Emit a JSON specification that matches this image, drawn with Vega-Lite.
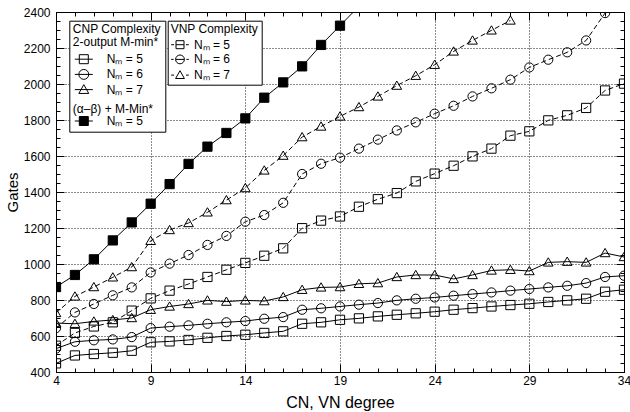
{
  "$schema": "https://vega.github.io/schema/vega-lite/v6.json",
  "width": 568,
  "height": 360,
  "autosize": {"type": "none"},
  "padding": {"left": 56, "top": 12, "right": 6, "bottom": 40},
  "data": {"values": [
    {"g":"cnp","s":"c5","x":4,"y":448},{"g":"cnp","s":"c5","x":5,"y":492},{"g":"cnp","s":"c5","x":6,"y":500},{"g":"cnp","s":"c5","x":7,"y":507},{"g":"cnp","s":"c5","x":8,"y":518},{"g":"cnp","s":"c5","x":9,"y":565},{"g":"cnp","s":"c5","x":10,"y":570},{"g":"cnp","s":"c5","x":11,"y":578},{"g":"cnp","s":"c5","x":12,"y":590},{"g":"cnp","s":"c5","x":13,"y":600},{"g":"cnp","s":"c5","x":14,"y":607},{"g":"cnp","s":"c5","x":15,"y":617},{"g":"cnp","s":"c5","x":16,"y":626},{"g":"cnp","s":"c5","x":17,"y":668},{"g":"cnp","s":"c5","x":18,"y":676},{"g":"cnp","s":"c5","x":19,"y":690},{"g":"cnp","s":"c5","x":20,"y":698},{"g":"cnp","s":"c5","x":21,"y":709},{"g":"cnp","s":"c5","x":22,"y":718},{"g":"cnp","s":"c5","x":23,"y":726},{"g":"cnp","s":"c5","x":24,"y":735},{"g":"cnp","s":"c5","x":25,"y":746},{"g":"cnp","s":"c5","x":26,"y":755},{"g":"cnp","s":"c5","x":27,"y":764},{"g":"cnp","s":"c5","x":28,"y":772},{"g":"cnp","s":"c5","x":29,"y":779},{"g":"cnp","s":"c5","x":30,"y":789},{"g":"cnp","s":"c5","x":31,"y":798},{"g":"cnp","s":"c5","x":32,"y":807},{"g":"cnp","s":"c5","x":33,"y":846},{"g":"cnp","s":"c5","x":34,"y":857},
    {"g":"cnp","s":"c6","x":4,"y":530},{"g":"cnp","s":"c6","x":5,"y":568},{"g":"cnp","s":"c6","x":6,"y":576},{"g":"cnp","s":"c6","x":7,"y":581},{"g":"cnp","s":"c6","x":8,"y":594},{"g":"cnp","s":"c6","x":9,"y":644},{"g":"cnp","s":"c6","x":10,"y":652},{"g":"cnp","s":"c6","x":11,"y":659},{"g":"cnp","s":"c6","x":12,"y":668},{"g":"cnp","s":"c6","x":13,"y":676},{"g":"cnp","s":"c6","x":14,"y":683},{"g":"cnp","s":"c6","x":15,"y":696},{"g":"cnp","s":"c6","x":16,"y":705},{"g":"cnp","s":"c6","x":17,"y":746},{"g":"cnp","s":"c6","x":18,"y":754},{"g":"cnp","s":"c6","x":19,"y":764},{"g":"cnp","s":"c6","x":20,"y":774},{"g":"cnp","s":"c6","x":21,"y":783},{"g":"cnp","s":"c6","x":22,"y":798},{"g":"cnp","s":"c6","x":23,"y":807},{"g":"cnp","s":"c6","x":24,"y":814},{"g":"cnp","s":"c6","x":25,"y":824},{"g":"cnp","s":"c6","x":26,"y":833},{"g":"cnp","s":"c6","x":27,"y":842},{"g":"cnp","s":"c6","x":28,"y":852},{"g":"cnp","s":"c6","x":29,"y":861},{"g":"cnp","s":"c6","x":30,"y":870},{"g":"cnp","s":"c6","x":31,"y":879},{"g":"cnp","s":"c6","x":32,"y":894},{"g":"cnp","s":"c6","x":33,"y":928},{"g":"cnp","s":"c6","x":34,"y":935},
    {"g":"cnp","s":"c7","x":4,"y":672},{"g":"cnp","s":"c7","x":5,"y":668},{"g":"cnp","s":"c7","x":6,"y":681},{"g":"cnp","s":"c7","x":7,"y":689},{"g":"cnp","s":"c7","x":8,"y":700},{"g":"cnp","s":"c7","x":9,"y":746},{"g":"cnp","s":"c7","x":10,"y":764},{"g":"cnp","s":"c7","x":11,"y":778},{"g":"cnp","s":"c7","x":12,"y":798},{"g":"cnp","s":"c7","x":13,"y":791},{"g":"cnp","s":"c7","x":14,"y":798},{"g":"cnp","s":"c7","x":15,"y":794},{"g":"cnp","s":"c7","x":16,"y":817},{"g":"cnp","s":"c7","x":17,"y":857},{"g":"cnp","s":"c7","x":18,"y":870},{"g":"cnp","s":"c7","x":19,"y":872},{"g":"cnp","s":"c7","x":20,"y":890},{"g":"cnp","s":"c7","x":21,"y":894},{"g":"cnp","s":"c7","x":22,"y":928},{"g":"cnp","s":"c7","x":23,"y":939},{"g":"cnp","s":"c7","x":24,"y":939},{"g":"cnp","s":"c7","x":25,"y":917},{"g":"cnp","s":"c7","x":26,"y":939},{"g":"cnp","s":"c7","x":27,"y":964},{"g":"cnp","s":"c7","x":28,"y":968},{"g":"cnp","s":"c7","x":29,"y":961},{"g":"cnp","s":"c7","x":30,"y":1009},{"g":"cnp","s":"c7","x":31,"y":1013},{"g":"cnp","s":"c7","x":32,"y":1009},{"g":"cnp","s":"c7","x":33,"y":1061},{"g":"cnp","s":"c7","x":34,"y":1039},
    {"g":"cnp","s":"ab5","x":4,"y":872},{"g":"cnp","s":"ab5","x":5,"y":939},{"g":"cnp","s":"ab5","x":6,"y":1026},{"g":"cnp","s":"ab5","x":7,"y":1131},{"g":"cnp","s":"ab5","x":8,"y":1231},{"g":"cnp","s":"ab5","x":9,"y":1335},{"g":"cnp","s":"ab5","x":10,"y":1444},{"g":"cnp","s":"ab5","x":11,"y":1556},{"g":"cnp","s":"ab5","x":12,"y":1652},{"g":"cnp","s":"ab5","x":13,"y":1728},{"g":"cnp","s":"ab5","x":14,"y":1809},{"g":"cnp","s":"ab5","x":15,"y":1924},{"g":"cnp","s":"ab5","x":16,"y":2009},{"g":"cnp","s":"ab5","x":17,"y":2098},{"g":"cnp","s":"ab5","x":18,"y":2217},{"g":"cnp","s":"ab5","x":19,"y":2324},{"g":"cnp","s":"ab5","x":20,"y":2432},
    {"g":"vnp","s":"v5","x":4,"y":546},{"g":"vnp","s":"v5","x":5,"y":617},{"g":"vnp","s":"v5","x":6,"y":653},{"g":"vnp","s":"v5","x":7,"y":676},{"g":"vnp","s":"v5","x":8,"y":741},{"g":"vnp","s":"v5","x":9,"y":809},{"g":"vnp","s":"v5","x":10,"y":852},{"g":"vnp","s":"v5","x":11,"y":889},{"g":"vnp","s":"v5","x":12,"y":928},{"g":"vnp","s":"v5","x":13,"y":968},{"g":"vnp","s":"v5","x":14,"y":1006},{"g":"vnp","s":"v5","x":15,"y":1046},{"g":"vnp","s":"v5","x":16,"y":1087},{"g":"vnp","s":"v5","x":17,"y":1199},{"g":"vnp","s":"v5","x":18,"y":1241},{"g":"vnp","s":"v5","x":19,"y":1264},{"g":"vnp","s":"v5","x":20,"y":1318},{"g":"vnp","s":"v5","x":21,"y":1360},{"g":"vnp","s":"v5","x":22,"y":1394},{"g":"vnp","s":"v5","x":23,"y":1459},{"g":"vnp","s":"v5","x":24,"y":1502},{"g":"vnp","s":"v5","x":25,"y":1546},{"g":"vnp","s":"v5","x":26,"y":1598},{"g":"vnp","s":"v5","x":27,"y":1641},{"g":"vnp","s":"v5","x":28,"y":1713},{"g":"vnp","s":"v5","x":29,"y":1737},{"g":"vnp","s":"v5","x":30,"y":1798},{"g":"vnp","s":"v5","x":31,"y":1826},{"g":"vnp","s":"v5","x":32,"y":1867},{"g":"vnp","s":"v5","x":33,"y":1964},{"g":"vnp","s":"v5","x":34,"y":2002},
    {"g":"vnp","s":"v6","x":4,"y":644},{"g":"vnp","s":"v6","x":5,"y":731},{"g":"vnp","s":"v6","x":6,"y":778},{"g":"vnp","s":"v6","x":7,"y":826},{"g":"vnp","s":"v6","x":8,"y":870},{"g":"vnp","s":"v6","x":9,"y":953},{"g":"vnp","s":"v6","x":10,"y":1002},{"g":"vnp","s":"v6","x":11,"y":1050},{"g":"vnp","s":"v6","x":12,"y":1106},{"g":"vnp","s":"v6","x":13,"y":1156},{"g":"vnp","s":"v6","x":14,"y":1235},{"g":"vnp","s":"v6","x":15,"y":1272},{"g":"vnp","s":"v6","x":16,"y":1340},{"g":"vnp","s":"v6","x":17,"y":1500},{"g":"vnp","s":"v6","x":18,"y":1557},{"g":"vnp","s":"v6","x":19,"y":1591},{"g":"vnp","s":"v6","x":20,"y":1641},{"g":"vnp","s":"v6","x":21,"y":1691},{"g":"vnp","s":"v6","x":22,"y":1742},{"g":"vnp","s":"v6","x":23,"y":1787},{"g":"vnp","s":"v6","x":24,"y":1835},{"g":"vnp","s":"v6","x":25,"y":1879},{"g":"vnp","s":"v6","x":26,"y":1931},{"g":"vnp","s":"v6","x":27,"y":1976},{"g":"vnp","s":"v6","x":28,"y":2024},{"g":"vnp","s":"v6","x":29,"y":2092},{"g":"vnp","s":"v6","x":30,"y":2135},{"g":"vnp","s":"v6","x":31,"y":2176},{"g":"vnp","s":"v6","x":32,"y":2242},{"g":"vnp","s":"v6","x":33,"y":2394},
    {"g":"vnp","s":"v7","x":4,"y":728},{"g":"vnp","s":"v7","x":5,"y":820},{"g":"vnp","s":"v7","x":6,"y":872},{"g":"vnp","s":"v7","x":7,"y":926},{"g":"vnp","s":"v7","x":8,"y":983},{"g":"vnp","s":"v7","x":9,"y":1129},{"g":"vnp","s":"v7","x":10,"y":1189},{"g":"vnp","s":"v7","x":11,"y":1228},{"g":"vnp","s":"v7","x":12,"y":1287},{"g":"vnp","s":"v7","x":13,"y":1355},{"g":"vnp","s":"v7","x":14,"y":1422},{"g":"vnp","s":"v7","x":15,"y":1520},{"g":"vnp","s":"v7","x":16,"y":1602},{"g":"vnp","s":"v7","x":17,"y":1705},{"g":"vnp","s":"v7","x":18,"y":1764},{"g":"vnp","s":"v7","x":19,"y":1820},{"g":"vnp","s":"v7","x":20,"y":1872},{"g":"vnp","s":"v7","x":21,"y":1931},{"g":"vnp","s":"v7","x":22,"y":1991},{"g":"vnp","s":"v7","x":23,"y":2046},{"g":"vnp","s":"v7","x":24,"y":2107},{"g":"vnp","s":"v7","x":25,"y":2181},{"g":"vnp","s":"v7","x":26,"y":2242},{"g":"vnp","s":"v7","x":27,"y":2298},{"g":"vnp","s":"v7","x":28,"y":2353}
  ]},
  "layer": [
    {
      "transform": [{"filter": {"field": "g", "equal": "cnp"}}],
      "mark": {"type": "line", "stroke": "#000", "strokeWidth": 1, "clip": true},
      "encoding": {
        "x": {"field": "x", "type": "quantitative", "scale": {"domain": [4, 34], "nice": false, "zero": false},
          "axis": {"orient": "bottom", "title": "CN, VN degree", "values": [4,5,6,7,8,9,10,11,12,13,14,15,16,17,18,19,20,21,22,23,24,25,26,27,28,29,30,31,32,33,34],
            "labelExpr": "(datum.value - 4) % 5 === 0 ? datum.label : ''",
            "tickSize": {"condition": {"test": "(datum.value - 4) % 5 === 0", "value": -8}, "value": -4},
            "labelPadding": 11, "labelFlush": false, "labelOverlap": false,
            "grid": true, "gridDash": [1, 2], "gridColor": "#000",
            "gridOpacity": {"condition": {"test": "(datum.value - 4) % 5 === 0", "value": 0.9}, "value": 0},
            "titleFontSize": 16, "titlePadding": 4}},
        "y": {"field": "y", "type": "quantitative", "scale": {"domain": [400, 2400], "nice": false, "zero": false},
          "axis": {"orient": "left", "title": "Gates", "format": "d",
            "values": [400,450,500,550,600,650,700,750,800,850,900,950,1000,1050,1100,1150,1200,1250,1300,1350,1400,1450,1500,1550,1600,1650,1700,1750,1800,1850,1900,1950,2000,2050,2100,2150,2200,2250,2300,2350,2400],
            "labelExpr": "datum.value % 200 === 0 ? datum.label : ''",
            "tickSize": {"condition": {"test": "datum.value % 200 === 0", "value": -8}, "value": -4},
            "labelPadding": 14, "labelFlush": false, "labelOverlap": false,
            "grid": true, "gridDash": [1, 2], "gridColor": "#000",
            "gridOpacity": {"condition": {"test": "datum.value % 200 === 0", "value": 0.9}, "value": 0},
            "titleFontSize": 15, "titlePadding": 3}},
        "detail": {"field": "s", "type": "nominal"}
      }
    },
    {
      "transform": [{"filter": {"field": "g", "equal": "vnp"}}],
      "mark": {"type": "line", "stroke": "#000", "strokeWidth": 1, "strokeDash": [5, 3], "clip": true},
      "encoding": {
        "x": {"field": "x", "type": "quantitative", "axis": null},
        "y": {"field": "y", "type": "quantitative", "axis": null},
        "detail": {"field": "s", "type": "nominal"}
      }
    },
    {
      "transform": [{"filter": {"field": "g", "equal": "cnp"}}],
      "mark": {"type": "point", "filled": true, "stroke": "#000", "strokeWidth": 1, "size": 85, "opacity": 1, "clip": true},
      "encoding": {
        "x": {"field": "x", "type": "quantitative",
          "axis": {"orient": "top", "title": null, "labels": false, "grid": false,
            "values": [4,5,6,7,8,9,10,11,12,13,14,15,16,17,18,19,20,21,22,23,24,25,26,27,28,29,30,31,32,33,34],
            "tickSize": {"condition": {"test": "(datum.value - 4) % 5 === 0", "value": -8}, "value": -4}}},
        "y": {"field": "y", "type": "quantitative",
          "axis": {"orient": "right", "title": null, "labels": false, "grid": false,
            "values": [400,450,500,550,600,650,700,750,800,850,900,950,1000,1050,1100,1150,1200,1250,1300,1350,1400,1450,1500,1550,1600,1650,1700,1750,1800,1850,1900,1950,2000,2050,2100,2150,2200,2250,2300,2350,2400],
            "tickSize": {"condition": {"test": "datum.value % 200 === 0", "value": -8}, "value": -4}}},
        "shape": {"field": "s", "type": "nominal", "legend": null,
          "scale": {"domain": ["c5", "c6", "c7", "ab5"], "range": ["square", "circle", "M0,-1L1.05,0.8H-1.05Z", "square"]}},
        "fill": {"condition": {"test": "datum.s === 'ab5'", "value": "#000"}, "value": "transparent"}
      }
    },
    {
      "transform": [{"filter": {"field": "g", "equal": "vnp"}}],
      "mark": {"type": "point", "filled": false, "stroke": "#000", "strokeWidth": 1, "size": 85, "opacity": 1, "clip": true},
      "encoding": {
        "x": {"field": "x", "type": "quantitative", "axis": null},
        "y": {"field": "y", "type": "quantitative", "axis": null},
        "shape": {"field": "s", "type": "nominal", "legend": null,
          "scale": {"domain": ["v5", "v6", "v7"], "range": ["square", "circle", "M0,-1L1.05,0.8H-1.05Z"]}}
      }
    },
    {
      "transform": [{"filter": {"field": "g", "equal": "none"}}],
      "mark": {"type": "point", "filled": false, "stroke": "#000", "strokeWidth": 1, "opacity": 1},
      "encoding": {
        "x": {"field": "x", "type": "quantitative", "axis": null},
        "y": {"field": "y", "type": "quantitative", "axis": null},
        "shape": {"field": "s", "type": "nominal",
          "scale": {"domain": ["c5", "c6", "c7", "hdr", "ab5"],
            "range": ["M-2,0H2M-1,-1H1V1H-1Z", "M-2,0H2M1.1,0A1.1,1.1,0,1,1,-1.1,0A1.1,1.1,0,1,1,1.1,0Z", "M-2,0H2M0,-1.1L1.1,0.85H-1.1Z", "M-1,-1.3H1M-1,1.3H1", "M-2,0H2M-1,-1H1V1H-1Z"]},
          "legend": {
            "orient": "none", "legendX": 13.3, "legendY": 8.7, "direction": "vertical",
            "title": ["CNP Complexity", "2-output M-min*"], "titleLineHeight": 13, "titlePadding": 4,
            "labelExpr": "datum.value === 'hdr' ? '' : datum.value === 'c6' ? 'Nₘ = 6' : datum.value === 'c7' ? 'Nₘ = 7' : 'Nₘ = 5'",
            "symbolSize": 81, "symbolOffset": 5, "labelOffset": 17, "rowPadding": 1.2, "padding": 3.5,
            "symbolStrokeColor": "#000", "symbolStrokeWidth": 1,
            "strokeColor": "#000", "fillColor": "#fff"}},
        "fill": {"field": "s", "type": "nominal",
          "scale": {"domain": ["c5", "c6", "c7", "hdr", "ab5"], "range": ["transparent", "transparent", "transparent", "transparent", "#000"]},
          "legend": {
            "orient": "none", "legendX": 13.3, "legendY": 8.7, "direction": "vertical",
            "title": ["CNP Complexity", "2-output M-min*"], "titleLineHeight": 13, "titlePadding": 4,
            "labelExpr": "datum.value === 'hdr' ? '' : datum.value === 'c6' ? 'Nₘ = 6' : datum.value === 'c7' ? 'Nₘ = 7' : 'Nₘ = 5'",
            "symbolSize": 81, "symbolOffset": 5, "labelOffset": 17, "rowPadding": 1.2, "padding": 3.5,
            "symbolStrokeColor": "#000", "symbolStrokeWidth": 1,
            "strokeColor": "#000", "fillColor": "#fff"}},
        "stroke": {"field": "s", "type": "nominal",
          "scale": {"domain": ["c5", "c6", "c7", "hdr", "ab5"], "range": ["#000", "#000", "#000", "transparent", "#000"]},
          "legend": {
            "orient": "none", "legendX": 13.3, "legendY": 8.7, "direction": "vertical",
            "title": ["CNP Complexity", "2-output M-min*"], "titleLineHeight": 13, "titlePadding": 4,
            "labelExpr": "datum.value === 'hdr' ? '' : datum.value === 'c6' ? 'Nₘ = 6' : datum.value === 'c7' ? 'Nₘ = 7' : 'Nₘ = 5'",
            "symbolSize": 81, "symbolOffset": 5, "labelOffset": 17, "rowPadding": 1.2, "padding": 3.5,
            "symbolStrokeColor": "#000", "symbolStrokeWidth": 1,
            "strokeColor": "#000", "fillColor": "#fff"}}
      }
    },
    {
      "transform": [{"filter": {"field": "g", "equal": "none"}}],
      "mark": {"type": "point", "filled": false, "stroke": "#000", "strokeWidth": 1, "opacity": 1},
      "encoding": {
        "x": {"field": "x", "type": "quantitative", "axis": null},
        "y": {"field": "y", "type": "quantitative", "axis": null},
        "shape": {"field": "s", "type": "nominal",
          "scale": {"domain": ["v5", "v6", "v7"],
            "range": ["M-2.2,0H-1.5M1.5,0H2.2M-1,0H1M-1,-1H1V1H-1Z", "M-2.2,0H-1.6M1.6,0H2.2M-1.1,0H1.1M1.1,0A1.1,1.1,0,1,1,-1.1,0A1.1,1.1,0,1,1,1.1,0Z", "M-2.2,0H-1.5M1.5,0H2.2M0,-1.1L1.1,0.85H-1.1Z"]},
          "legend": {
            "orient": "none", "legendX": 111.7, "legendY": 8.7, "direction": "vertical",
            "title": "VNP Complexity", "titlePadding": 3,
            "labelExpr": "datum.value === 'v6' ? 'Nₘ = 6' : datum.value === 'v7' ? 'Nₘ = 7' : 'Nₘ = 5'",
            "symbolSize": 64, "symbolOffset": 3.3, "labelOffset": 8, "rowPadding": 1.7, "padding": 3,
            "symbolStrokeColor": "#000", "symbolStrokeWidth": 1, "symbolFillColor": "transparent",
            "strokeColor": "#000", "fillColor": "#fff"}}
      }
    },
    {
      "transform": [{"filter": {"field": "g", "equal": "none"}}],
      "mark": {"type": "point", "filled": false, "stroke": "#000", "strokeWidth": 1, "opacity": 1},
      "encoding": {
        "x": {"field": "x", "type": "quantitative", "axis": null},
        "y": {"field": "y", "type": "quantitative", "axis": null},
        "shape": {"field": "s", "type": "nominal",
          "scale": {"domain": ["h"], "range": ["M0,0"]},
          "legend": {
            "orient": "none", "legendX": 16.8, "legendY": 91.5, "direction": "vertical",
            "title": "(α–β) + M-Min*", "titlePadding": 0,
            "labelExpr": "''", "symbolSize": 4, "rowPadding": 0, "padding": 0,
            "symbolOpacity": 0, "labelOpacity": 0}}
      }
    }
  ],
  "resolve": {"scale": {"shape": "independent", "fill": "independent", "stroke": "independent"}, "axis": {"x": "independent", "y": "independent"}},
  "config": {
    "font": "Liberation Sans",
    "view": {"stroke": "#000", "strokeWidth": 1},
    "axis": {"labelFont": "Liberation Sans", "titleFont": "Liberation Sans", "labelColor": "#000", "titleColor": "#000",
      "tickColor": "#000", "domainColor": "#000", "titleFontWeight": "normal", "labelFontSize": 12, "tickWidth": 1, "domainWidth": 1},
    "legend": {"labelFont": "Liberation Sans", "titleFont": "Liberation Sans", "labelColor": "#000", "titleColor": "#000",
      "labelFontSize": 12, "titleFontSize": 12, "titleFontWeight": "normal", "labelLimit": 0, "titleLimit": 0}
  }
}
